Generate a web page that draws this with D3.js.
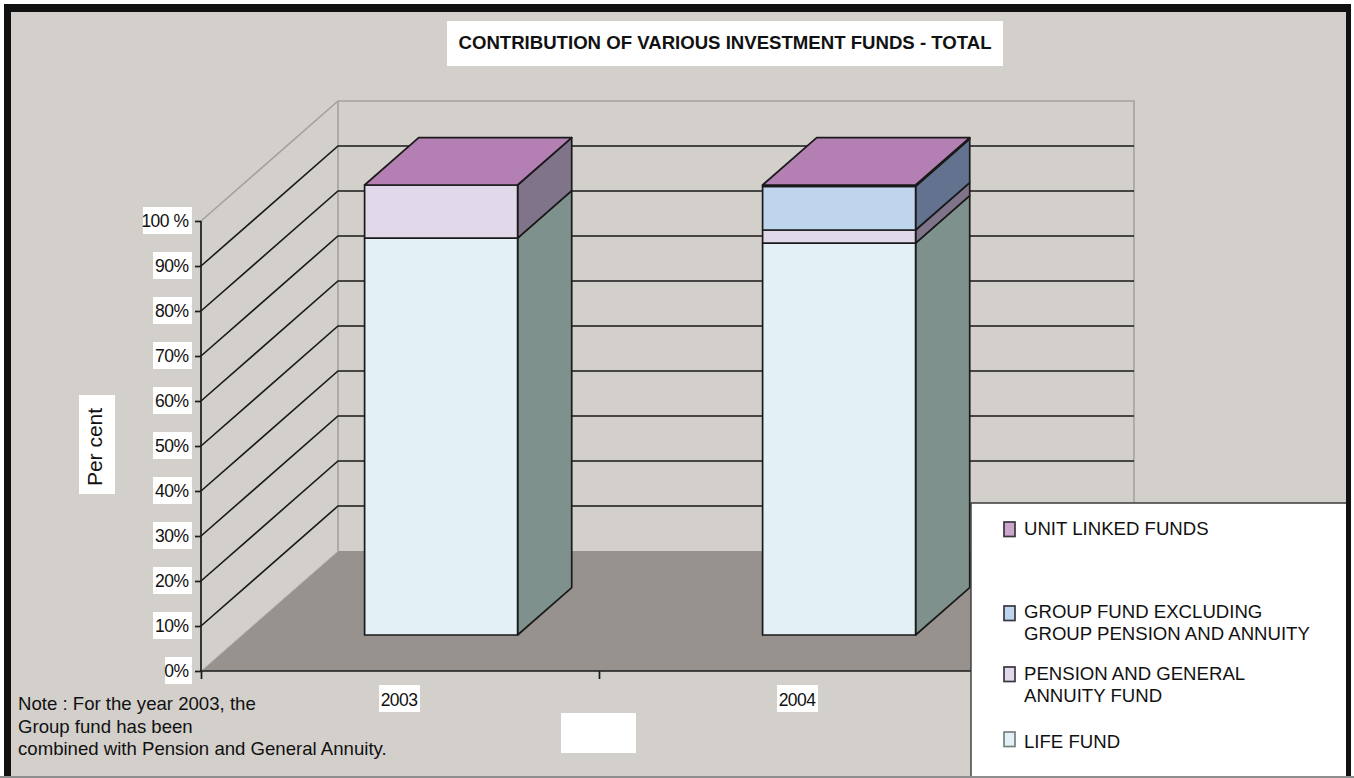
<!DOCTYPE html>
<html><head><meta charset="utf-8">
<script src="https://cdn.jsdelivr.net/npm/d3@7"></script>
<style>html,body{margin:0;padding:0;background:#fff;overflow:hidden}text{font-family:"Liberation Sans",Arial,sans-serif;fill:#111}</style>
</head><body><svg id="c" width="1354" height="778"></svg>
<script>
const years = ["2003","2004"];
const seriesNames = ["LIFE FUND","PENSION AND GENERAL ANNUITY FUND","GROUP FUND EXCLUDING GROUP PENSION AND ANNUITY","UNIT LINKED FUNDS"];
const lifeFund = [88.2,87.1];
const pensionFund = [11.8,2.9];
const groupFund = [0,9.7];
const unitLinked = [0,0.3];
const yTicks = [0,10,20,30,40,50,60,70,80,90,100];
const frontColors = ["#e3f0f6","#e1d8ea","#bfd5ed","#b47fb3"];
const sideColors = ["#7f918d","#80748a","#63738f","#6e5a7c"];
const topColor = "#b47fb3";
const legendRows = [
 {i:3,lines:["UNIT LINKED FUNDS"],y:535,top:521,sw:"#cda6cd"},
 {i:2,lines:["GROUP FUND EXCLUDING","GROUP PENSION AND ANNUITY"],y:618,top:605,sw:"#bfd5ed"},
 {i:1,lines:["PENSION AND GENERAL","ANNUITY FUND"],y:680,top:666,sw:"#e1d8ea"},
 {i:0,lines:["LIFE FUND"],y:747.5,top:731,sw:"#e3f0f6"}
];
const noteLines = ["Note : For the year 2003, the","Group fund has been","combined with Pension and General Annuity."];

const svg = d3.select("#c");
const bg="#d3cfcb", floorC="#97928e", ink="#1a1a1a";
svg.append("rect").attr("x",4).attr("y",4).attr("width",1347).attr("height",772).attr("fill","#111");
svg.append("rect").attr("x",11).attr("y",12).attr("width",1335).attr("height",764).attr("fill",bg);
svg.append("rect").attr("x",0).attr("y",776).attr("width",1354).attr("height",2).attr("fill","#8d8d8d");

const y = d3.scaleLinear().domain([0,100]).range([671,221]);
const x = d3.scaleBand().domain(years).range([201,997]);
const depthX = 137, depthY = 120;
const px = (v,d)=>v+d*depthX, py=(v,d)=>y(v)-d*depthY;
const line = d3.line();
const poly = pts=>line(pts)+"Z";

const xL=201,xR=997;
svg.append("path").attr("d",poly([[px(xL,0),py(0,0)],[px(xL,1),py(0,1)],[px(xR,1),py(0,1)],[px(xR,0),py(0,0)]])).attr("fill",floorC);
svg.append("path").attr("d",line([[px(xL,0),py(100,0)],[px(xL,1),py(100,1)],[px(xR,1),py(100,1)],[px(xR,1),py(0,1)]])).attr("fill","none").attr("stroke","#a5a19e").attr("stroke-width",1.6);
svg.append("path").attr("d",line([[px(xL,1),py(100,1)],[px(xL,1),py(0,1)]])).attr("fill","none").attr("stroke","#a5a19e").attr("stroke-width",1.6);
yTicks.filter(t=>t>0&&t<100).forEach(t=>{
  svg.append("path").attr("d",line([[px(xL,0),py(t,0)],[px(xL,1),py(t,1)],[px(xR,1),py(t,1)]]))
    .attr("fill","none").attr("stroke",ink).attr("stroke-width",1.6);
});
svg.append("path").attr("d",line([[px(xL,0),py(0,0)],[px(xL,1),py(0,1)]])).attr("fill","none").attr("stroke","#bdb9b5").attr("stroke-width",1);

const series=[lifeFund,pensionFund,groupFund,unitLinked];
const d0=0.3,d1=0.695,barW=153;
const barG=svg.append("g").attr("stroke",ink).attr("stroke-width",1.7).attr("stroke-linejoin","round");
years.forEach((yr,k)=>{
  const xa=x(yr)+x.bandwidth()/2-barW/2, xb=xa+barW;
  let base=0;
  series.forEach((s,i)=>{
    const v=s[k]; if(!v) return;
    const t=base+v;
    barG.append("path").attr("d",poly([[px(xb,d0),py(base,d0)],[px(xb,d1),py(base,d1)],[px(xb,d1),py(t,d1)],[px(xb,d0),py(t,d0)]])).attr("fill",sideColors[i]);
    barG.append("path").attr("d",poly([[px(xa,d0),py(base,d0)],[px(xb,d0),py(base,d0)],[px(xb,d0),py(t,d0)],[px(xa,d0),py(t,d0)]])).attr("fill",frontColors[i]);
    base=t;
  });
  barG.append("path").attr("d",poly([[px(xa,d0),py(base,d0)],[px(xb,d0),py(base,d0)],[px(xb,d1),py(base,d1)],[px(xa,d1),py(base,d1)]])).attr("fill",topColor);
});

const yAxis=d3.axisLeft(y).tickValues(yTicks).tickSize(6).tickFormat(()=>"");
const gy=svg.append("g").attr("transform","translate(201,0)").call(yAxis);
const xAxis=d3.axisBottom(d3.scaleLinear().domain([0,2]).range([xL,xR])).tickValues([0,1,2]).tickSize(8).tickFormat(()=>"");
const gx=svg.append("g").attr("transform","translate(0,671)").call(xAxis);
[gy,gx].forEach(g=>{g.selectAll("path,line").attr("stroke",ink).attr("stroke-width",1.7);});
gy.select("path").attr("d","M0,221V671");
gx.select("path").attr("d","M201,0H997");

yTicks.forEach(t=>{
  const w=t===100?49:(t===0?27:39);
  svg.append("rect").attr("x",192-w).attr("y",y(t)-14).attr("width",w).attr("height",27).attr("fill","#fff");
  svg.append("text").attr("x",188.5).attr("y",y(t)+5.5).attr("text-anchor","end").attr("font-size",17.5).attr("letter-spacing",-0.5).text(t===100?"100 %":t+"%");
});
const xLabelBox=[[379,41],[777,41]];
years.forEach((yr,k)=>{
  const cx=xLabelBox[k][0]+20;
  svg.append("rect").attr("x",xLabelBox[k][0]).attr("y",685).attr("width",xLabelBox[k][1]).attr("height",27).attr("fill","#fff");
  svg.append("text").attr("x",cx).attr("y",705.5).attr("text-anchor","middle").attr("font-size",17.5).attr("letter-spacing",-0.6).text(yr);
});

svg.append("rect").attr("x",447).attr("y",21).attr("width",556).attr("height",45).attr("fill","#fff");
svg.append("text").attr("x",725).attr("y",49).attr("text-anchor","middle").attr("font-size",18.6).attr("font-weight","bold").text("CONTRIBUTION OF VARIOUS INVESTMENT FUNDS - TOTAL");
svg.append("rect").attr("x",79).attr("y",395).attr("width",36).attr("height",99).attr("fill","#fff");
svg.append("text").attr("transform","translate(102,447) rotate(-90)").attr("text-anchor","middle").attr("font-size",21).text("Per cent");
svg.append("rect").attr("x",561).attr("y",713).attr("width",75).attr("height",40).attr("fill","#fff");
noteLines.forEach((l,i)=>svg.append("text").attr("x",18).attr("y",710+i*22.5).attr("font-size",18.6).text(l));

svg.append("rect").attr("x",971).attr("y",503).attr("width",375).attr("height",273).attr("fill","#fff");
svg.append("path").attr("d","M971,776V503H1346").attr("fill","none").attr("stroke","#3a3a3a").attr("stroke-width",1.4);
legendRows.forEach(r=>{
  svg.append("rect").attr("x",1004).attr("y",r.top+1).attr("width",11).attr("height",14.5).attr("fill",r.sw).attr("stroke",r.i===0?"#77817f":"#3a3540").attr("stroke-width",1.7);
  r.lines.forEach((l,j)=>svg.append("text").attr("x",1024).attr("y",r.y+j*22).attr("font-size",18.6).text(l));
});
</script></body></html>
